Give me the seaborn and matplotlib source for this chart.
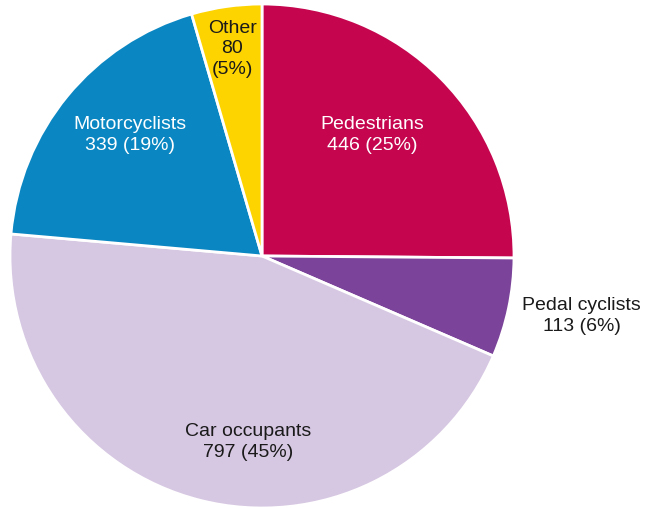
import numpy as np
import seaborn as sns
import matplotlib.pyplot as plt

categories = ['Pedestrians', 'Pedal cyclists', 'Car occupants', 'Motorcyclists', 'Other']
counts = [446, 113, 797, 339, 80]
colors = ['#C5064F', '#7B4399', '#D6C7E2', '#0A87C2', '#FDD300']
text_colors = ['white', '#1a1a1a', '#1a1a1a', 'white', '#1a1a1a']
# label radius and small angle nudge (degrees) per wedge
label_r = [0.65, 1.29, 0.74, 0.71, 0.83]
label_nudge = [3, 1.3, 10, -3, 0]

sns.set_theme(style='white')
plt.rcParams['font.family'] = ['Liberation Sans', 'DejaVu Sans']

fig = plt.figure(figsize=(6.48, 5.08), dpi=100)
ax = fig.add_axes([10 / 648, 0, 504 / 648, 504 / 508])

wedges, _ = ax.pie(counts, colors=colors, startangle=90, counterclock=False,
                   wedgeprops=dict(edgecolor='white', linewidth=2))

total = sum(counts)
for w, name, n, tc, r, nudge in zip(wedges, categories, counts, text_colors, label_r, label_nudge):
    mid = np.deg2rad((w.theta1 + w.theta2) / 2 + nudge)
    pct = round(100 * n / total)
    if name == 'Other':
        label = f'{name}\n{n}\n({pct}%)'
    else:
        label = f'{name}\n{n} ({pct}%)'
    ax.text(r * np.cos(mid), r * np.sin(mid), label, ha='center', va='center',
            color=tc, fontsize=14, linespacing=1.3)

ax.set_xlim(-1, 1)
ax.set_ylim(-1, 1)
ax.set_aspect('equal')
ax.axis('off')
fig.savefig('out.png', dpi=100)
